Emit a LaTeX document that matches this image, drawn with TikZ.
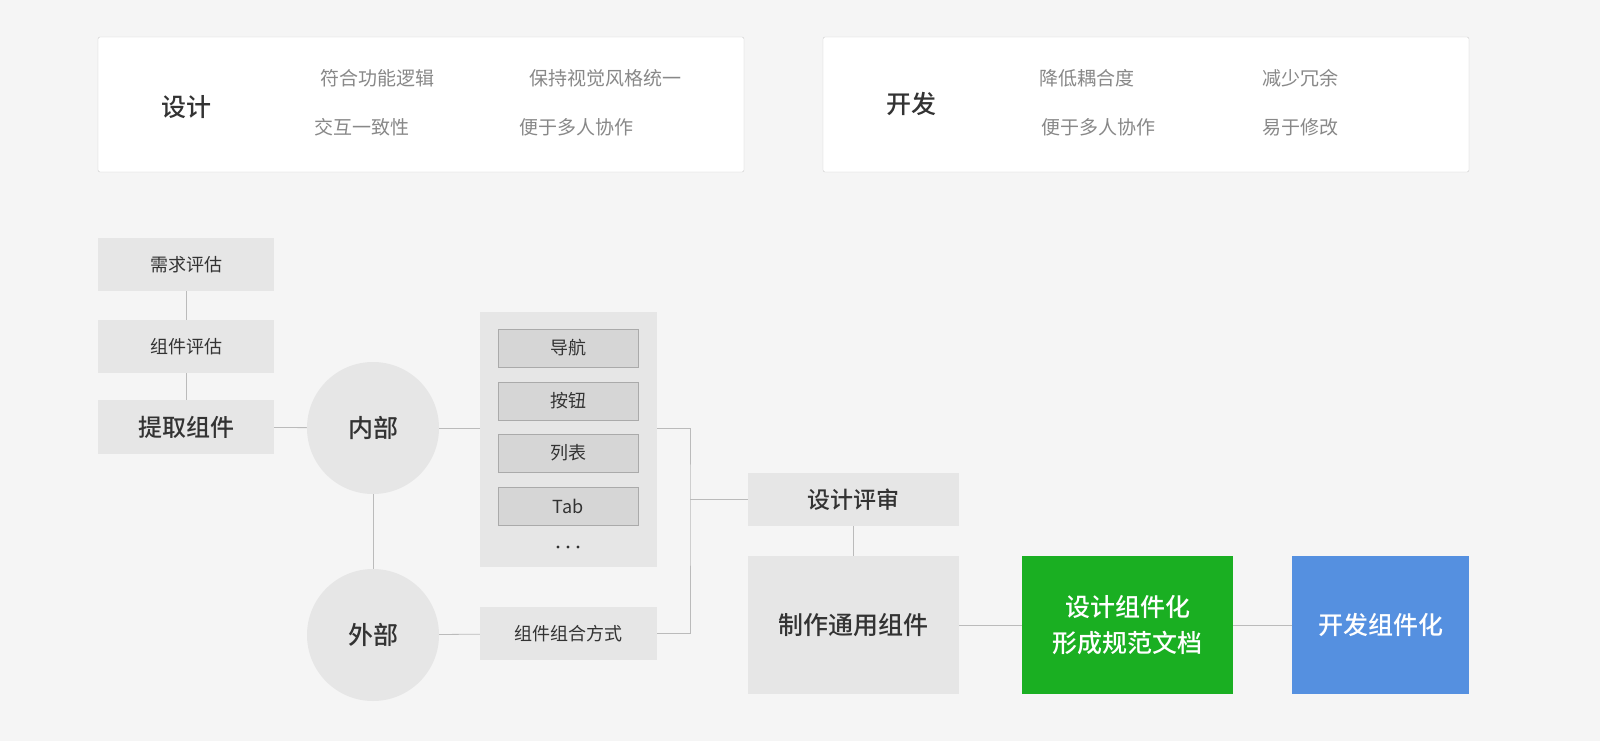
\documentclass[tikz,border=0pt]{standalone}
\usepackage{fontspec}
\setmainfont[BoldFont={Noto Sans CJK SC Medium}]{Noto Sans CJK SC}
\usetikzlibrary{positioning}
\definecolor{bg}{HTML}{F5F5F5}
\definecolor{boxgray}{HTML}{E6E6E6}
\definecolor{itemgray}{HTML}{D6D6D6}
\definecolor{txt}{HTML}{333333}
\definecolor{soft}{HTML}{888888}
\definecolor{linegray}{HTML}{AAAAAA}
\definecolor{green}{HTML}{1AAF22}
\definecolor{blue}{HTML}{5590E0}
\tikzset{
	card/.style={draw=linegray!60, fill=white, rounded corners=2pt},
	gbox/.style={fill=boxgray, text=txt, font=\fontsize{18}{20}\selectfont},
	item/.style={draw=linegray, fill=itemgray, minimum width=140pt, minimum height=38pt, text=txt, font=\fontsize{18}{20}\selectfont},
	tip/.style={text=soft, font=\fontsize{19}{22}\selectfont},
	head/.style={text=txt, font=\fontsize{25}{28}\selectfont\bfseries},
	ball/.style={circle, fill=boxgray, minimum size=132pt, inner sep=0pt, text=txt, font=\fontsize{25}{28}\selectfont\bfseries},
	link/.style={draw=linegray!80, line width=0.8pt}
}
\begin{document}
\begin{tikzpicture}[x=1pt, y=-1pt]
	\fill[bg] (0,0) rectangle (1600,741);
	\useasboundingbox (0,0) rectangle (1600,741);
	% top cards
	\draw[card] (98,37) rectangle (744,172);
	\node[head] (design) at (186,107) {设计};
	\node[tip] (d1) at (377,78) {符合功能逻辑};
	\node[tip] (d2) at (605,78) {保持视觉风格统一};
	\node[tip] (d3) at (362,127) {交互一致性};
	\node[tip] (d4) at (576,127) {便于多人协作};
	\draw[card] (823,37) rectangle (1469,172);
	\node[head] (dev) at (911,104) {开发};
	\node[tip] (v1) at (1087,78) {降低耦合度};
	\node[tip] (v2) at (1300,78) {减少冗余};
	\node[tip] (v3) at (1098,127) {便于多人协作};
	\node[tip] (v4) at (1300,127) {易于修改};
	% left column
	\node[gbox, minimum width=176pt, minimum height=53pt] (need) at (186,264.5) {需求评估};
	\node[gbox, minimum width=176pt, minimum height=53pt] (eval) at (186,346.5) {组件评估};
	\node[gbox, minimum width=176pt, minimum height=54pt, font=\fontsize{24}{26}\selectfont\bfseries] (pick) at (186,427) {提取组件};
	\draw[link] (need) -- (eval);
	\draw[link] (eval) -- (pick);
	% circles
	\node[ball] (inner) at (373,428) {内部};
	\node[ball] (outer) at (373,635) {外部};
	\draw[link] (pick) -- (inner);
	\draw[link] (inner) -- (outer);
	% panel
	\node[fill=boxgray, minimum width=177pt, minimum height=255pt, inner sep=0pt] (panel) at (568.5,439.5) {};
	\node[item] (nav) at (568,348) {导航};
	\node[item] (btn) at (568,401) {按钮};
	\node[item] (list) at (568,453) {列表};
	\node[item] (tab) at (568,506) {Tab};
	\foreach \x in {558,568,578}
		\fill[txt] (\x,547) circle (1.6);
	\node[gbox, minimum width=177pt, minimum height=53pt] (combo) at (568.5,633.5) {组件组合方式};
	\draw[link] (inner) -- (inner -| panel.west);
	\draw[link] (outer) -- (combo);
	% review
	\node[gbox, minimum width=211pt, minimum height=53pt, font=\fontsize{23}{26}\selectfont\bfseries] (review) at (853.5,499.5) {设计评审};
	\node[gbox, minimum width=211pt, minimum height=138pt, font=\fontsize{25}{28}\selectfont\bfseries] (make) at (853.5,625) {制作通用组件};
	\coordinate (joint) at (690,499.5);
	\draw[link] (panel.east |- inner) -| (joint) |- (combo.east);
	\draw[link] (joint) -- (review);
	\draw[link] (review) -- (make);
	% results
	\node[fill=green, minimum width=211pt, minimum height=138pt, text=white, align=center, font=\fontsize{25}{36}\selectfont\bfseries] (doc) at (1127.5,625) {设计组件化\\形成规范文档};
	\node[fill=blue, minimum width=177pt, minimum height=138pt, text=white, font=\fontsize{25}{28}\selectfont\bfseries] (code) at (1380.5,625) {开发组件化};
	\draw[link] (make) -- (doc);
	\draw[link] (doc) -- (code);
\end{tikzpicture}
\end{document}
